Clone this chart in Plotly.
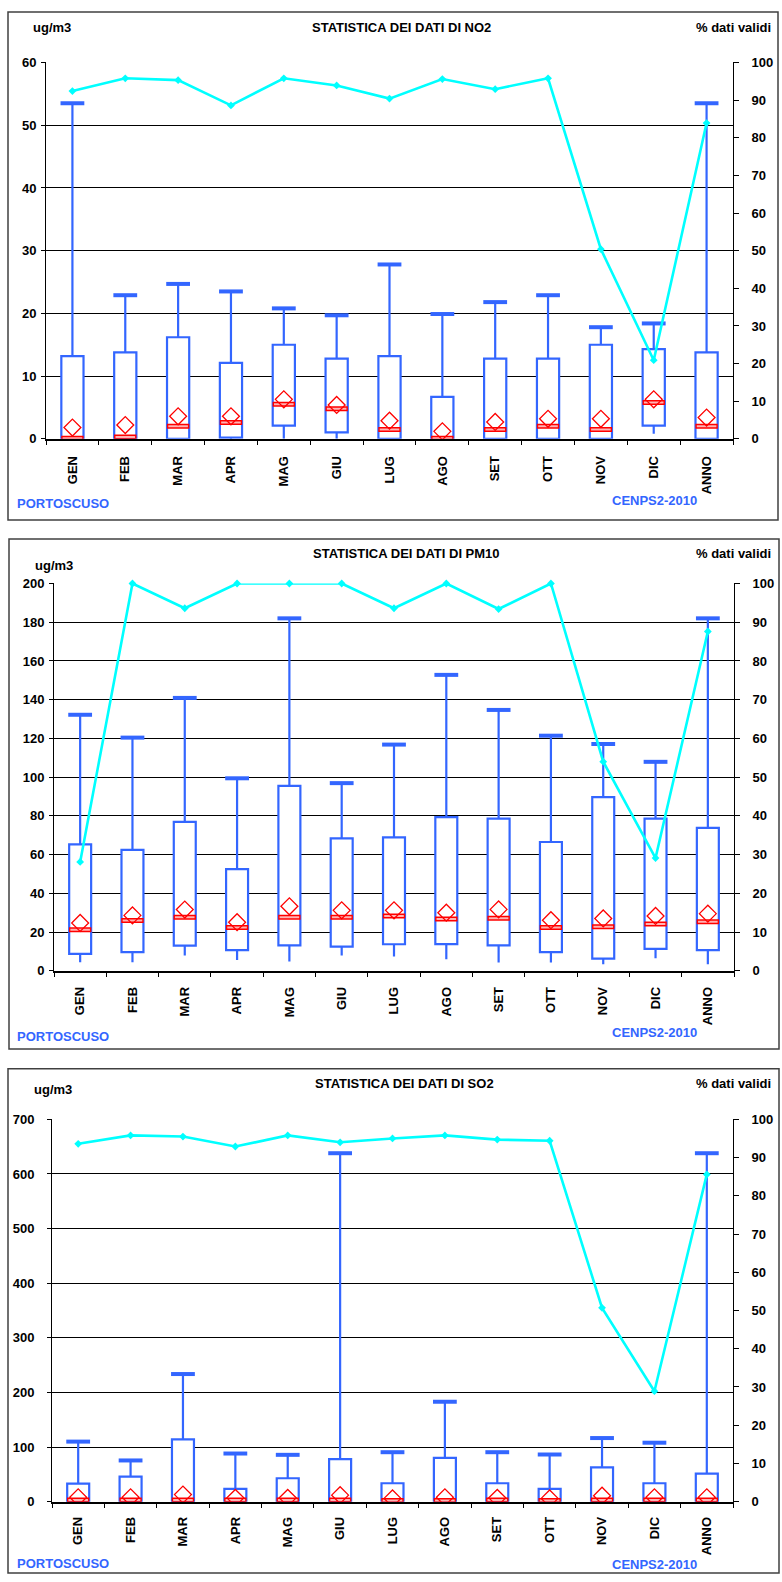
import plotly.graph_objects as go

W, H = 782, 1582

# ---------------- data ----------------
months = ["GEN", "FEB", "MAR", "APR", "MAG", "GIU", "LUG", "AGO", "SET", "OTT", "NOV", "DIC", "ANNO"]

no2_max = [53.5, 22.9, 24.7, 23.5, 20.8, 19.7, 27.8, 19.9, 21.8, 22.9, 17.8, 18.4, 53.5]
no2_q3 = [13.2, 13.8, 16.2, 12.1, 15.0, 12.8, 13.2, 6.7, 12.8, 12.8, 15.0, 14.3, 13.8]
no2_q1 = [0.0, 0.0, 0.0, 0.2, 2.1, 1.05, 0.0, 0.0, 0.0, 0.0, 0.0, 2.1, 0.0]
no2_min = [0.0, 0.0, 0.0, 0.0, 0.0, 0.0, 0.0, 0.0, 0.0, 0.0, 0.0, 0.8, 0.0]
no2_med = [0.1, 0.3, 2.0, 2.6, 5.5, 4.8, 1.5, 0.1, 1.5, 2.0, 1.5, 5.8, 2.0]
no2_mean = [1.8, 2.2, 3.6, 3.6, 6.3, 5.4, 2.9, 1.2, 2.7, 3.2, 3.2, 6.3, 3.4]
no2_valid = [92.4, 95.8, 95.3, 88.6, 95.8, 93.9, 90.4, 95.6, 92.9, 95.8, 50.4, 20.9, 83.9]

pm10_max = [132.2, 120.4, 140.9, 99.4, 182.0, 96.9, 116.8, 152.8, 134.7, 121.4, 117.1, 107.9, 182.0]
pm10_q3 = [65.3, 62.4, 76.9, 52.5, 95.5, 68.4, 68.9, 79.3, 78.6, 66.5, 89.7, 78.6, 73.8]
pm10_q1 = [8.7, 9.6, 13.0, 10.7, 13.1, 12.5, 13.7, 13.8, 13.1, 9.6, 6.3, 11.3, 10.7]
pm10_min = [4.4, 4.4, 7.9, 5.5, 4.8, 7.9, 7.4, 6.0, 4.3, 4.3, 3.4, 6.5, 3.4]
pm10_med = [21.2, 25.9, 27.6, 22.4, 27.6, 27.6, 28.3, 26.8, 27.1, 22.4, 22.7, 24.1, 25.3]
pm10_mean = [24.7, 28.6, 31.6, 25.1, 33.3, 31.2, 31.2, 30.0, 31.7, 26.1, 27.0, 28.3, 29.5]
pm10_valid = [28.1, 100.0, 93.6, 100.0, 100.0, 100.0, 93.6, 100.0, 93.4, 100.0, 54.0, 29.1, 87.6]

so2_max = [110.0, 75.5, 233.7, 88.2, 85.8, 638.0, 90.6, 183.0, 90.6, 86.4, 116.5, 108.0, 638.0]
so2_q3 = [33.2, 45.9, 114.0, 23.6, 42.9, 77.9, 33.8, 80.3, 33.8, 23.6, 62.8, 33.8, 51.3]
so2_q1 = [0.0, 0.0, 0.0, 0.0, 0.0, 0.0, 0.0, 0.0, 0.0, 0.0, 0.0, 0.0, 0.0]
so2_min = [0.0, 0.0, 0.0, 0.0, 0.0, 0.0, 0.0, 0.0, 0.0, 0.0, 0.0, 0.0, 0.0]
so2_med = [3.0, 3.0, 3.0, 3.0, 3.0, 3.0, 2.0, 2.0, 3.0, 2.0, 3.0, 3.0, 3.0]
so2_mean = [8.0, 8.0, 13.0, 7.0, 7.0, 12.0, 6.0, 8.0, 7.0, 6.0, 11.0, 8.0, 8.0]
so2_valid = [93.6, 95.8, 95.5, 92.9, 95.8, 94.0, 95.0, 95.8, 94.7, 94.4, 50.7, 28.9, 85.6]

left_ticks_max = [60, 200, 700]
left_ticks_step = [10, 20, 100]
right_ticks = (100, 10)
titles = ["STATISTICA DEI DATI DI NO2", "STATISTICA DEI DATI DI PM10", "STATISTICA DEI DATI DI SO2"]
unit_label = "ug/m3"
right_label = "% dati validi"
station = "PORTOSCUSO"
campaign = "CENPS2-2010"

# ---------------- style / layout ----------------
BLUE = "#3366FF"
CYAN = "#00FFFF"
RED = "#FF0000"
MEDFILL = "#FFB3B3"
FONT = "Liberation Sans, Arial, sans-serif"
FS = 13

series = [
    (no2_max, no2_q3, no2_q1, no2_min, no2_med, no2_mean, no2_valid),
    (pm10_max, pm10_q3, pm10_q1, pm10_min, pm10_med, pm10_mean, pm10_valid),
    (so2_max, so2_q3, so2_q1, so2_min, so2_med, so2_mean, so2_valid),
]

# pixel geometry per panel: plot area (x0,y0,x1,y1), border, text rows
geo = [
    dict(plot=(46, 56, 733, 436), border=(8, 5, 778, 518), title_y=21, unit=(31, 21),
         right_y=21, foot_y=(501, 498), lstand=2, rstand=10, xstand=10),
    dict(plot=(54, 582, 734, 973), border=(9, 537, 779, 1052), title_y=552, unit=(33, 564),
         right_y=552, foot_y=(1039, 1035), lstand=2, rstand=10, xstand=9),
    dict(plot=(52, 1123, 733, 1509), border=(8, 1072, 779, 1581), title_y=1087, unit=(32, 1093),
         right_y=1087, foot_y=(1571, 1572), lstand=10, rstand=10, xstand=8),
]

def px(x):
    return x / W

def py(y):
    return 1 - y / H

fig = go.Figure()
layout = dict(width=W, height=H, margin=dict(l=0, r=0, t=0, b=0),
              paper_bgcolor="white", plot_bgcolor="white", showlegend=False,
              barmode="overlay", font=dict(family=FONT, size=FS, color="black"))
shapes = []
annotations = []

tickfont = dict(family=FONT, size=FS, color="black", weight="bold")

for i, (vmax, q3, q1, vmin, med, mean, valid) in enumerate(series):
    g = geo[i]
    xn = "x" if i == 0 else f"x{i+1}"
    yn = f"y{2*i+1}" if i > 0 else "y"
    y2n = f"y{2*i+2}"
    xkey = "xaxis" if i == 0 else f"xaxis{i+1}"
    ykey = "yaxis" if i == 0 else f"yaxis{2*i+1}"
    y2key = f"yaxis{2*i+2}"
    x0, y0, x1, y1 = g["plot"]

    layout[xkey] = dict(domain=[px(x0), px(x1)], anchor=yn, type="category",
                        categoryorder="array", categoryarray=months, range=[-0.5, 12.5],
                        tickson="boundaries", ticks="outside", ticklen=4, tickwidth=1,
                        tickcolor="black", showline=True, linecolor="black", linewidth=2,
                        tickangle=-90, tickfont=tickfont, showgrid=False,
                        ticklabelstandoff=g["xstand"], fixedrange=True)
    layout[ykey] = dict(domain=[py(y1), py(y0)], anchor=xn, range=[0, left_ticks_max[i]],
                        tick0=0, dtick=left_ticks_step[i], showgrid=True, gridcolor="black",
                        gridwidth=1, showline=True, linecolor="black", linewidth=1,
                        ticks="outside", ticklen=4, tickcolor="black", zeroline=False,
                        tickfont=tickfont, ticklabelstandoff=g["lstand"], fixedrange=True)
    layout[y2key] = dict(overlaying=yn, side="right", anchor=xn, range=[0, right_ticks[0]],
                         tick0=0, dtick=right_ticks[1], showgrid=False, showline=True,
                         linecolor="black", linewidth=1, ticks="outside", ticklen=5,
                         tickcolor="black", zeroline=False, tickfont=tickfont,
                         ticklabelstandoff=g["rstand"], fixedrange=True)

    # boxes
    fig.add_trace(go.Bar(x=months, y=[h - l for h, l in zip(q3, q1)], base=q1, width=0.42,
                         marker=dict(color="white", line=dict(color=BLUE, width=2.2)),
                         xaxis=xn, yaxis=yn, hoverinfo="skip"))
    # whiskers
    wx, wy = [], []
    for m, a, b, c, d in zip(months, vmax, q3, q1, vmin):
        wx += [m, m, None, m, m, None]
        wy += [b, a, None, d, c, None]
    fig.add_trace(go.Scatter(x=wx, y=wy, mode="lines", line=dict(color=BLUE, width=2.2),
                             xaxis=xn, yaxis=yn, hoverinfo="skip", connectgaps=False))
    # caps
    fig.add_trace(go.Scatter(x=months, y=vmax, mode="markers",
                             marker=dict(symbol="line-ew", size=17, color=BLUE,
                                         line=dict(color=BLUE, width=4)),
                             xaxis=xn, yaxis=yn, hoverinfo="skip", cliponaxis=False))
    # median (red outlined rectangle)
    fig.add_trace(go.Scatter(x=months, y=med, mode="markers",
                             marker=dict(symbol="line-ew", size=16, color=RED,
                                         line=dict(color=RED, width=5)),
                             xaxis=xn, yaxis=yn, hoverinfo="skip"))
    fig.add_trace(go.Scatter(x=months, y=med, mode="markers",
                             marker=dict(symbol="line-ew", size=14, color=MEDFILL,
                                         line=dict(color=MEDFILL, width=2)),
                             xaxis=xn, yaxis=yn, hoverinfo="skip"))
    # mean
    fig.add_trace(go.Scatter(x=months, y=mean, mode="markers",
                             marker=dict(symbol="diamond-open", size=13, color=RED,
                                         line=dict(color=RED, width=1.3)),
                             xaxis=xn, yaxis=yn, hoverinfo="skip"))
    # valid data percentage
    fig.add_trace(go.Scatter(x=months, y=valid, mode="lines+markers",
                             line=dict(color=CYAN, width=2.6),
                             marker=dict(symbol="diamond", size=6, color=CYAN),
                             xaxis=xn, yaxis=y2n, hoverinfo="skip", cliponaxis=False))

    bx0, by0, bx1, by1 = g["border"]
    shapes.append(dict(type="rect", xref="paper", yref="paper", x0=px(bx0), x1=px(bx1),
                       y0=py(by1), y1=py(by0), line=dict(color="#404040", width=1.5),
                       fillcolor="rgba(0,0,0,0)", layer="below"))

    bold = dict(family=FONT, size=FS, color="black", weight="bold")
    blue_bold = dict(family=FONT, size=FS, color=BLUE, weight="bold")
    annotations += [
        dict(text=titles[i], x=px((x0 + x1) / 2 + 12), y=py(g["title_y"]), xref="paper",
             yref="paper", xanchor="center", yanchor="middle", showarrow=False, font=bold),
        dict(text=unit_label, x=px(g["unit"][0]), y=py(g["unit"][1]), xref="paper",
             yref="paper", xanchor="left", yanchor="middle", showarrow=False, font=bold),
        dict(text=right_label, x=px(773), y=py(g["right_y"]), xref="paper", yref="paper",
             xanchor="right", yanchor="middle", showarrow=False, font=bold),
        dict(text=station, x=px(15), y=py(g["foot_y"][0]), xref="paper", yref="paper",
             xanchor="left", yanchor="middle", showarrow=False, font=blue_bold),
        dict(text=campaign, x=px(610), y=py(g["foot_y"][1]), xref="paper", yref="paper",
             xanchor="left", yanchor="middle", showarrow=False, font=blue_bold),
    ]

layout["shapes"] = shapes
layout["annotations"] = annotations
fig.update_layout(**layout)
fig.write_html("out.html", config={"displayModeBar": False},
               post_script="document.body.style.margin='0';"
                           "document.body.style.overflow='hidden';"
                           "document.documentElement.style.overflow='hidden';")
